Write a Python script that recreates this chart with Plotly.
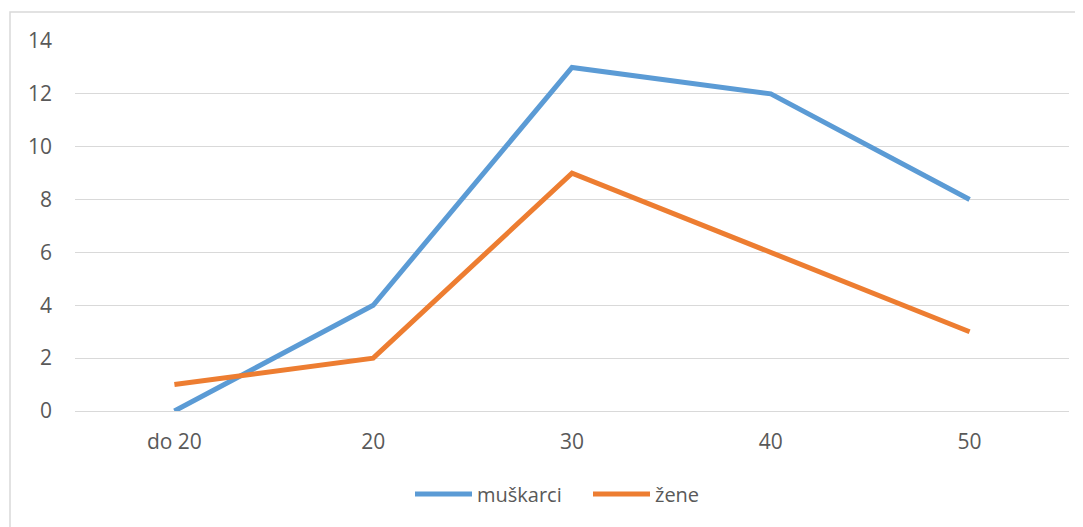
import plotly.graph_objects as go

categories = ["do 20", "20", "30", "40", "50"]
muskarci = [0, 4, 13, 12, 8]
zene = [1, 2, 9, 6, 3]
series_names = ["muškarci", "žene"]
colors = ["#5B9BD5", "#ED7D31"]

fig = go.Figure()
for name, vals, col in zip(series_names, [muskarci, zene], colors):
    fig.add_trace(go.Scatter(x=categories, y=vals, name=name, mode="lines",
                             line=dict(color=col, width=5)))

OFF = 8  # page body margin
W, H = 1083 - OFF, 527 - OFF
ml, mr, mt, mb = 75 - OFF, 14, 41 - OFF, 116
pw, ph = W - ml - mr, H - mt - mb

def px(x):
    return (x - 75) / pw

def py(y):
    return (411 - y) / ph

fig.update_layout(
    width=W, height=H,
    margin=dict(l=ml, r=mr, t=mt, b=mb),
    paper_bgcolor="white", plot_bgcolor="white",
    font=dict(family="Open Sans, Liberation Sans, sans-serif", size=21, color="#595959"),
    xaxis=dict(type="category", range=[-0.5, 4.5], showgrid=False, showline=False,
               ticks="", ticklabelstandoff=16, tickfont=dict(size=21, color="#595959")),
    yaxis=dict(range=[0, 14], dtick=2, showgrid=True, gridcolor="#D9D9D9", gridwidth=1.3,
               zeroline=True, zerolinecolor="#D9D9D9", zerolinewidth=1.3,
               showline=False, ticks="", ticklabelstandoff=22,
               tickfont=dict(size=21, color="#595959")),
    legend=dict(orientation="h", x=px(410), xanchor="left", y=py(494), yanchor="middle",
                font=dict(size=20, color="#595959"), itemwidth=57,
                entrywidth=106, entrywidthmode="pixels"),
    showlegend=True,
)
fig.add_shape(type="rect", xref="paper", yref="paper",
              x0=px(10), x1=px(1095), y0=py(540), y1=py(12),
              line=dict(color="#D9D9D9", width=1.5), fillcolor="rgba(0,0,0,0)", layer="below")

fig.write_html("out.html")
